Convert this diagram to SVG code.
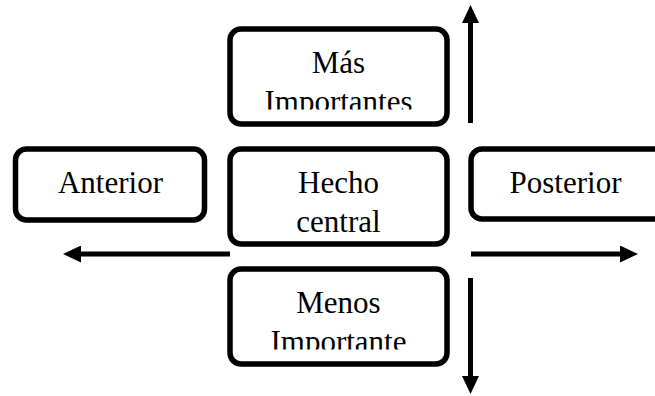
<svg xmlns="http://www.w3.org/2000/svg" width="655" height="396" viewBox="0 0 655 396">
  <style>
    .box { fill: #ffffff; stroke: #000000; stroke-width: 5.5; }
    .lbl { font-family: "Liberation Serif", "Times New Roman", serif; font-size: 31px; fill: #000000; text-anchor: middle; }
    .arrow { stroke: #000000; stroke-width: 5; fill: none; marker-end: url(#head); }
  </style>
  <defs>
    <marker id="head" viewBox="0 0 18 17" refX="2" refY="8.5" markerWidth="18" markerHeight="17" markerUnits="userSpaceOnUse" orient="auto">
      <path d="M0,0 L18,8.5 L0,17 Z" fill="#000000"/>
    </marker>
    <clipPath id="clipMas"><rect x="230" y="29" width="217" height="80.5"/></clipPath>
    <clipPath id="clipMenos"><rect x="230" y="269" width="217" height="80.5"/></clipPath>
  </defs>
  <rect width="655" height="396" fill="#ffffff"/>

  <g id="connectors">
    <line class="arrow" x1="470.5" y1="123" x2="470.5" y2="21"/>
    <line class="arrow" x1="470.5" y1="278" x2="470.5" y2="378"/>
    <line class="arrow" x1="230" y1="254" x2="79" y2="254"/>
    <line class="arrow" x1="471" y1="254" x2="622" y2="254"/>
  </g>

  <g id="mas-importantes">
    <rect class="box" x="230" y="29" width="217" height="95" rx="11"/>
    <g clip-path="url(#clipMas)">
      <text class="lbl" x="338.5" y="73.3">Más</text>
      <text class="lbl" x="338.5" y="111.7">Importantes</text>
    </g>
  </g>

  <g id="anterior">
    <rect class="box" x="15.5" y="149" width="189" height="71" rx="11"/>
    <text class="lbl" x="110.5" y="193.3">Anterior</text>
  </g>

  <g id="hecho-central">
    <rect class="box" x="230" y="149" width="217" height="95" rx="11"/>
    <text class="lbl" x="338.5" y="193.3">Hecho</text>
    <text class="lbl" x="338.5" y="231.7">central</text>
  </g>

  <g id="posterior">
    <rect class="box" x="471" y="149" width="210" height="70" rx="11"/>
    <text class="lbl" x="565.5" y="193.3">Posterior</text>
  </g>

  <g id="menos-importante">
    <rect class="box" x="230" y="269" width="217" height="95" rx="11"/>
    <g clip-path="url(#clipMenos)">
      <text class="lbl" x="338.5" y="313.3">Menos</text>
      <text class="lbl" x="338.5" y="351.7">Importante</text>
    </g>
  </g>
</svg>
